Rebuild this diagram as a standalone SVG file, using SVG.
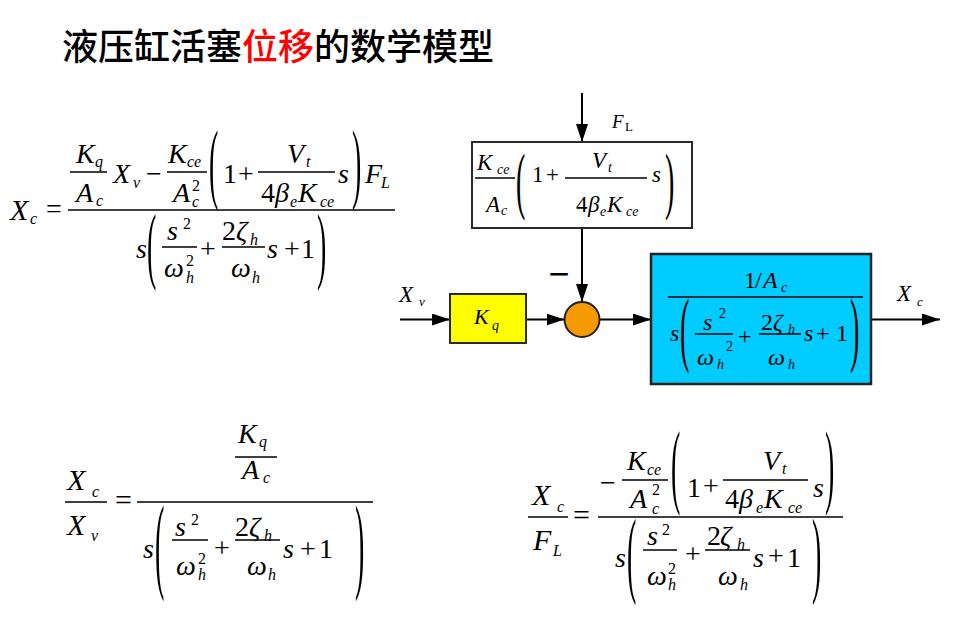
<svg xmlns="http://www.w3.org/2000/svg" width="963" height="623" viewBox="0 0 963 623">
<defs>
<style>
.i{font-family:"Liberation Serif","Times New Roman",serif;font-style:italic;fill:#000}
.u{font-family:"Liberation Serif","Times New Roman",serif;fill:#000}
.p{font-family:"Liberation Serif","Times New Roman",serif;font-size:28px;fill:#000}
.fl{stroke:#000;stroke-width:1.3}
.a{font-size:28px}
.x{font-size:30px}
.b{font-size:16px}
.c{stroke:#000;stroke-width:2;fill:none}
.box{stroke:#2a2a2a;stroke-width:2}
</style>
<marker id="ah" markerUnits="userSpaceOnUse" markerWidth="18" markerHeight="12" refX="18" refY="6" orient="auto">
<path d="M0,0 L18,6 L0,12 z" fill="#000"/>
</marker>
</defs>
<rect width="963" height="623" fill="#fff"/>

<g id="title">
<text x="62" y="60" font-family="'Noto Sans CJK SC','Noto Sans',sans-serif" font-size="36" font-weight="500" fill="#000">液压缸活塞<tspan fill="#FF0000">位移</tspan>的数学模型</text>
</g>

<!-- Top-left equation -->
<g id="eq-xc">
<text class="i x" x="10" y="220">X</text>
<text class="i b" x="30" y="224">c</text>
<text class="u a" x="46" y="217.5">=</text>
<line class="fl" x1="68" y1="210" x2="395" y2="210"/>
<text class="i a" x="76" y="163">K</text><text class="i b" x="95" y="167">q</text>
<line class="fl" x1="70" y1="172" x2="107" y2="172"/>
<text class="i a" x="76" y="202">A</text><text class="i b" x="96" y="206">c</text>
<text class="i a" x="113" y="183">X</text><text class="i b" x="133" y="188">v</text>
<text class="u a" x="146" y="183">−</text>
<text class="i a" x="168" y="163">K</text><text class="i b" x="187" y="167">ce</text>
<line class="fl" x1="167" y1="172" x2="207" y2="172"/>
<text class="i a" x="173" y="202">A</text><text class="u b" x="192" y="191">2</text><text class="i b" x="192" y="207">c</text>
<text class="p" transform="translate(209,192.4) scale(1,3.14)">(</text>
<text class="u a" x="223" y="183">1</text><text class="u a" x="238" y="183">+</text>
<text class="i a" x="287" y="163">V</text><text class="i b" x="306" y="167">t</text>
<line class="fl" x1="258" y1="172" x2="335" y2="172"/>
<text class="u a" x="261" y="202">4</text><text class="i a" x="275" y="202">β</text><text class="i b" x="290" y="207">e</text><text class="i a" x="298" y="202">K</text><text class="i b" x="320" y="207">ce</text>
<text class="i a" x="338" y="183">s</text>
<text class="p" transform="translate(352,192.4) scale(1,3.14)">)</text>
<text class="i a" x="365" y="183">F</text><text class="i b" x="381" y="188">L</text>
<text class="i a" x="136" y="258">s</text>
<text class="p" transform="translate(147,272.9) scale(1,3.057)">(</text>
<text class="i a" x="167" y="240">s</text><text class="u b" x="183" y="229">2</text>
<line class="fl" x1="162" y1="247" x2="197" y2="247"/>
<text class="i a" x="164" y="277">ω</text><text class="u b" x="186" y="266">2</text><text class="i b" x="186" y="283">h</text>
<text class="u a" x="200" y="258">+</text>
<text class="u a" x="222" y="240">2</text><text class="i a" x="236" y="240">ζ</text><text class="i b" x="250" y="245">h</text>
<line class="fl" x1="222" y1="247" x2="265" y2="247"/>
<text class="i a" x="231" y="277">ω</text><text class="i b" x="252" y="283">h</text>
<text class="i a" x="267" y="258">s</text><text class="u a" x="284" y="258">+</text><text class="u a" x="301" y="258">1</text>
<text class="p" transform="translate(317,272.9) scale(1,3.057)">)</text>
</g>

<!-- Bottom-left equation -->
<g id="eq-xc-xv">
<text class="i x" x="67" y="490">X</text><text class="i b" x="92" y="497">c</text>
<line class="fl" x1="65" y1="502" x2="107" y2="502"/>
<text class="i x" x="67" y="535">X</text><text class="i b" x="91" y="541">v</text>
<text class="u x" x="115" y="510">=</text>
<line class="fl" x1="137" y1="502" x2="373" y2="502"/>
<text class="i a" x="238" y="443">K</text><text class="i b" x="259" y="447">q</text>
<line class="fl" x1="235" y1="457" x2="277" y2="457"/>
<text class="i a" x="242" y="479">A</text><text class="i b" x="263" y="483">c</text>
<text class="i a" x="143" y="558">s</text>
<text class="p" transform="translate(155,579.1) scale(1,3.81)">(</text>
<text class="i a" x="175" y="536">s</text><text class="u b" x="191" y="525">2</text>
<line class="fl" x1="172" y1="540" x2="208" y2="540"/>
<text class="i a" x="176" y="575">ω</text><text class="u b" x="198" y="564">2</text><text class="i b" x="198" y="580">h</text>
<text class="u a" x="214" y="557">+</text>
<text class="u a" x="235" y="536">2</text><text class="i a" x="249" y="536">ζ</text><text class="i b" x="264" y="541">h</text>
<line class="fl" x1="235" y1="540" x2="280" y2="540"/>
<text class="i a" x="247" y="575">ω</text><text class="i b" x="268" y="580">h</text>
<text class="i a" x="283" y="558">s</text><text class="u a" x="300" y="558">+</text><text class="u a" x="319" y="558">1</text>
<text class="p" transform="translate(355,579.1) scale(1,3.81)">)</text>
</g>

<!-- Bottom-right equation -->
<g id="eq-xc-fl">
<text class="i x" x="532" y="505">X</text><text class="i b" x="557" y="512">c</text>
<line class="fl" x1="528" y1="517" x2="568" y2="517"/>
<text class="i x" x="533" y="550">F</text><text class="i b" x="553" y="556">L</text>
<text class="u x" x="573" y="525">=</text>
<line class="fl" x1="598" y1="517" x2="843" y2="517"/>
<text class="u a" x="600" y="492">−</text>
<text class="i a" x="627" y="470">K</text><text class="i b" x="647" y="475">ce</text>
<line class="fl" x1="622" y1="480" x2="668" y2="480"/>
<text class="i a" x="630" y="508">A</text><text class="u b" x="652" y="495">2</text><text class="i b" x="652" y="514">c</text>
<text class="p" transform="translate(671,495.6) scale(1,3.308)">(</text>
<text class="u a" x="687" y="497">1</text><text class="u a" x="703" y="495">+</text>
<text class="i a" x="763" y="470">V</text><text class="i b" x="782" y="474">t</text>
<line class="fl" x1="723" y1="480" x2="808" y2="480"/>
<text class="u a" x="725" y="508">4</text><text class="i a" x="739" y="508">β</text><text class="i b" x="756" y="513">e</text><text class="i a" x="764" y="508">K</text><text class="i b" x="788" y="513">ce</text>
<text class="i a" x="813" y="497">s</text>
<text class="p" transform="translate(825,495.6) scale(1,3.308)">)</text>
<text class="i a" x="615" y="567">s</text>
<text class="p" transform="translate(627,585) scale(1,3.434)">(</text>
<text class="i a" x="647" y="545">s</text><text class="u b" x="662" y="535">2</text>
<line class="fl" x1="643" y1="550" x2="677" y2="550"/>
<text class="i a" x="647" y="585">ω</text><text class="u b" x="668" y="574">2</text><text class="i b" x="668" y="590">h</text>
<text class="u a" x="685" y="563">+</text>
<text class="u a" x="707" y="545">2</text><text class="i a" x="720" y="545">ζ</text><text class="i b" x="737" y="550">h</text>
<line class="fl" x1="705" y1="550" x2="750" y2="550"/>
<text class="i a" x="718" y="585">ω</text><text class="i b" x="740" y="590">h</text>
<text class="i a" x="753" y="567">s</text><text class="u a" x="768" y="565">+</text><text class="u a" x="787" y="567">1</text>
<text class="p" transform="translate(812,585) scale(1,3.434)">)</text>
</g>

<!-- Block diagram connectors -->
<g id="connectors">
<line class="c" x1="582" y1="93" x2="582" y2="142" marker-end="url(#ah)"/>
<line class="c" x1="582" y1="228" x2="582" y2="302" marker-end="url(#ah)"/>
<line class="c" x1="400" y1="319.5" x2="450" y2="319.5" marker-end="url(#ah)"/>
<line class="c" x1="527" y1="319.5" x2="564.5" y2="319.5" marker-end="url(#ah)"/>
<line class="c" x1="600" y1="319.5" x2="651" y2="319.5" marker-end="url(#ah)"/>
<line class="c" x1="871" y1="319.5" x2="940" y2="319.5" marker-end="url(#ah)"/>
</g>

<g id="label-fl">
<text class="i" font-size="19" x="612" y="128">F</text><text class="u" font-size="13" x="625" y="131">L</text>
</g>
<g id="label-xv">
<text class="i" font-size="23" x="399" y="302" fill="#333">X</text><text class="i" font-size="13" x="419" y="306">v</text>
</g>
<g id="label-xc">
<text class="i" font-size="23" x="897" y="301">X</text><text class="i" font-size="13" x="917" y="306">c</text>
</g>
<g id="label-minus">
<text x="548.5" y="286" font-family="'Liberation Sans',sans-serif" font-size="36" fill="#000">−</text>
</g>

<g id="node-load">
<rect class="box" x="472" y="142" width="220" height="86" fill="#fff"/>
<text class="i" font-size="23" x="477" y="170">K</text><text class="i" font-size="14" x="497" y="174">ce</text>
<line class="fl" x1="475" y1="178" x2="515" y2="178"/>
<text class="i" font-size="23" x="486" y="212">A</text><text class="i" font-size="14" x="501" y="215">c</text>
<text class="p" transform="translate(516,204.9) scale(1,2.638)">(</text>
<text class="u" font-size="23" x="532" y="182">1</text><text class="u" font-size="23" x="546" y="182">+</text>
<text class="i" font-size="23" x="592" y="168">V</text><text class="i" font-size="14" x="608" y="172">t</text>
<line class="fl" x1="565" y1="178" x2="647" y2="178"/>
<text class="u" font-size="23" x="576" y="212">4</text><text class="i" font-size="23" x="588" y="212">β</text><text class="i" font-size="14" x="600" y="216">e</text><text class="i" font-size="23" x="607" y="212">K</text><text class="i" font-size="14" x="626" y="216">ce</text>
<text class="i" font-size="23" x="652" y="182">s</text>
<text class="p" transform="translate(665,204.9) scale(1,2.638)">)</text>
</g>

<g id="node-kq">
<rect class="box" x="450" y="294" width="76" height="49" fill="#FFFF00"/>
<text class="i" font-size="22" x="474" y="324">K</text><text class="i" font-size="14" x="492" y="330">q</text>
</g>

<g id="node-sum">
<circle cx="582" cy="319.5" r="17.5" fill="#F59A00" stroke="#222" stroke-width="2"/>
</g>

<g id="node-plant">
<rect x="651" y="254" width="220" height="130" fill="#00CCFF" stroke="#222" stroke-width="2.5"/>
<text class="u" font-size="24" x="744" y="288">1</text><text class="u" font-size="24" x="755" y="288">/</text><text class="i" font-size="24" x="763" y="288">A</text><text class="i" font-size="14" x="781" y="292">c</text>
<line class="fl" x1="668" y1="297" x2="863" y2="297"/>
<text class="i" font-size="24" x="670" y="341">s</text>
<text class="p" transform="translate(680,355.5) scale(1,2.931)" fill="#444">(</text>
<text class="i" font-size="24" x="703" y="330">s</text><text class="u" font-size="14" x="719" y="318">2</text>
<line class="fl" x1="695" y1="334" x2="733" y2="334"/>
<text class="i" font-size="24" x="697" y="365">ω</text><text class="i" font-size="14" x="717" y="369">h</text><text class="u" font-size="14" x="726" y="351">2</text>
<text class="u" font-size="24" x="738" y="344">+</text>
<text class="u" font-size="24" x="761" y="330">2</text><text class="i" font-size="24" x="773" y="330">ζ</text><text class="i" font-size="14" x="788" y="334">h</text>
<line class="fl" x1="759" y1="334" x2="801" y2="334"/>
<text class="i" font-size="24" x="768" y="365">ω</text><text class="i" font-size="14" x="788" y="369">h</text>
<text class="i" font-size="24" x="804" y="341">s</text><text class="u" font-size="24" x="816" y="341">+</text><text class="u" font-size="24" x="836" y="341">1</text>
<text class="p" transform="translate(850,355.5) scale(1,2.931)" fill="#444">)</text>
</g>
</svg>
